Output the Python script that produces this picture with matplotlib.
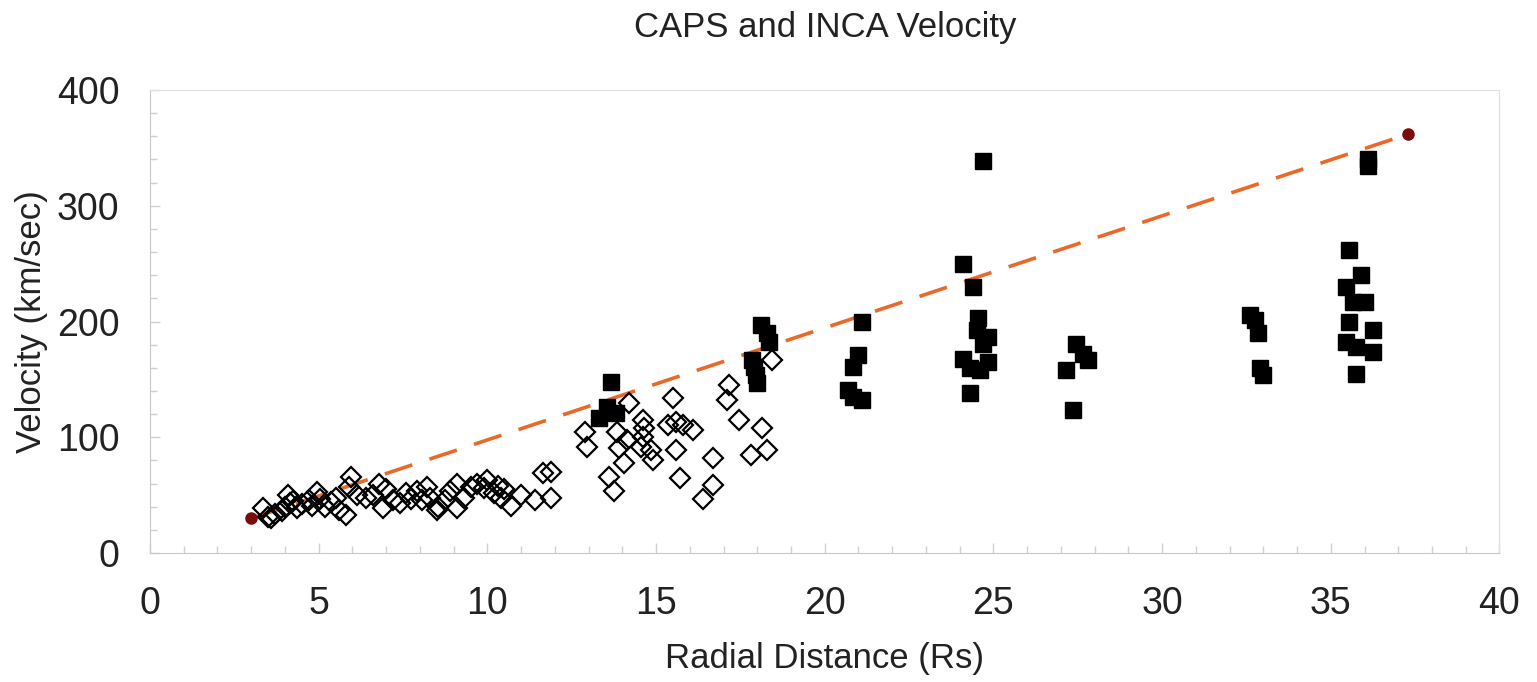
import matplotlib
matplotlib.use("Agg")
import matplotlib.pyplot as plt
from matplotlib.ticker import MultipleLocator

plt.rcParams["font.family"] = ["Liberation Sans", "DejaVu Sans"]

# CAPS velocities (open diamonds)
caps_r = [3.35, 3.5, 3.6, 3.7, 3.9, 4.0, 4.1, 4.15, 4.35, 4.5, 4.7, 4.95, 5.05, 5.2,
          5.35, 5.6, 5.8, 5.9, 5.95, 6.15, 6.4, 6.6, 6.8, 6.9, 7.2, 7.4, 7.6, 7.9,
          8.05, 8.3, 8.5, 8.55, 8.75, 8.9, 9.1, 9.1, 9.3, 9.5, 9.7, 10.0, 10.2, 10.4,
          10.5, 10.7, 11.0, 11.4, 11.65, 11.9, 11.9,
          4.25, 4.8, 5.5, 7.0, 7.75, 8.2, 9.9, 10.3,
          12.9, 12.95, 13.6, 13.75, 13.85, 13.9, 14.05, 14.15, 14.2, 14.55, 14.6, 14.6,
          14.65, 14.85, 14.9, 15.35, 15.5, 15.6, 15.6, 15.7, 15.8, 16.1, 16.4, 16.7,
          16.7, 17.1, 17.15, 17.45, 17.8, 18.15, 18.3, 18.45]
caps_v = [39, 31, 30, 34, 36, 40, 50, 43, 39, 42, 46, 53, 47, 40,
          44, 37, 33, 57, 66, 50, 48, 50, 60, 39, 46, 43, 52, 54,
          46, 48, 37, 40, 46, 54, 60, 39, 48, 57, 60, 63, 52, 48,
          55, 41, 50, 46, 69, 70, 48,
          45, 41, 48, 55, 47, 57, 56, 58,
          105, 92, 66, 54, 105, 91, 78, 98, 130, 92, 115, 100,
          108, 89, 80, 111, 134, 113, 89, 65, 111, 106, 47, 82,
          59, 132, 145, 115, 85, 108, 89, 167]

# INCA velocities (filled squares)
inca_r = [13.3, 13.55, 13.65, 13.8,
          17.85, 17.9, 17.95, 18.0, 18.1, 18.3, 18.35,
          20.7, 20.85, 20.85, 21.0, 21.1, 21.1,
          24.1, 24.1, 24.3, 24.3, 24.4, 24.5, 24.55, 24.6, 24.7, 24.7, 24.85, 24.85,
          27.15, 27.35, 27.45, 27.65, 27.8,
          32.6, 32.75, 32.85, 32.9, 33.0,
          35.45, 35.45, 35.55, 35.55, 35.65, 35.75, 35.75, 35.9, 36.0, 36.1, 36.1,
          36.25, 36.25]
inca_v = [117, 126, 148, 121,
          167, 161, 154, 147, 197, 190, 182,
          141, 135, 161, 171, 200, 132,
          250, 168, 160, 138, 230, 193, 203, 158, 339, 181, 187, 165,
          158, 124, 181, 172, 167,
          206, 201, 190, 160, 154,
          230, 182, 262, 200, 217, 178, 155, 240, 217, 340, 334,
          193, 174]

# dashed upper envelope
line_r = [3.0, 37.3]
line_v = [30, 362]

fig = plt.figure(figsize=(15.37, 6.82), dpi=100)
ax = fig.add_axes([0.0976, 0.189, 0.878, 0.679])

ax.plot(line_r, line_v, color="#e8692a", linewidth=2.6, dashes=(8, 5), zorder=2)
ax.plot(line_r, line_v, linestyle="none", marker="o", markersize=8,
        color="#7a0c0c", zorder=4)
ax.plot(caps_r, caps_v, linestyle="none", marker="D", markersize=10,
        markerfacecolor="none", markeredgecolor="black", markeredgewidth=1.6, zorder=3)
ax.plot(inca_r, inca_v, linestyle="none", marker="s", markersize=11,
        color="black", zorder=3)

ax.set_xlim(0, 40)
ax.set_ylim(0, 400)
ax.xaxis.set_major_locator(MultipleLocator(5))
ax.xaxis.set_minor_locator(MultipleLocator(1))
ax.yaxis.set_major_locator(MultipleLocator(100))
ax.yaxis.set_minor_locator(MultipleLocator(20))
ax.tick_params(which="both", direction="in", color="#d0d0d0", labelsize=27,
               labelcolor="#222222")
ax.tick_params(which="major", length=7, width=1)
ax.tick_params(which="minor", length=5, width=1)
ax.tick_params(axis="y", which="major", pad=22)
ax.tick_params(axis="x", which="major", pad=24)
for s in ax.spines.values():
    s.set_color("#e0e0e0")
ax.spines["left"].set_color("#c8c8c8")
ax.spines["bottom"].set_color("#c8c8c8")

ax.set_title("CAPS and INCA Velocity", fontsize=25, color="#222222", pad=38)
ax.set_xlabel("Radial Distance (Rs)", fontsize=25, color="#222222", labelpad=14)
ax.set_ylabel("Velocity (km/sec)", fontsize=25, color="#222222", labelpad=6)

fig.savefig("out.png", dpi=100)
